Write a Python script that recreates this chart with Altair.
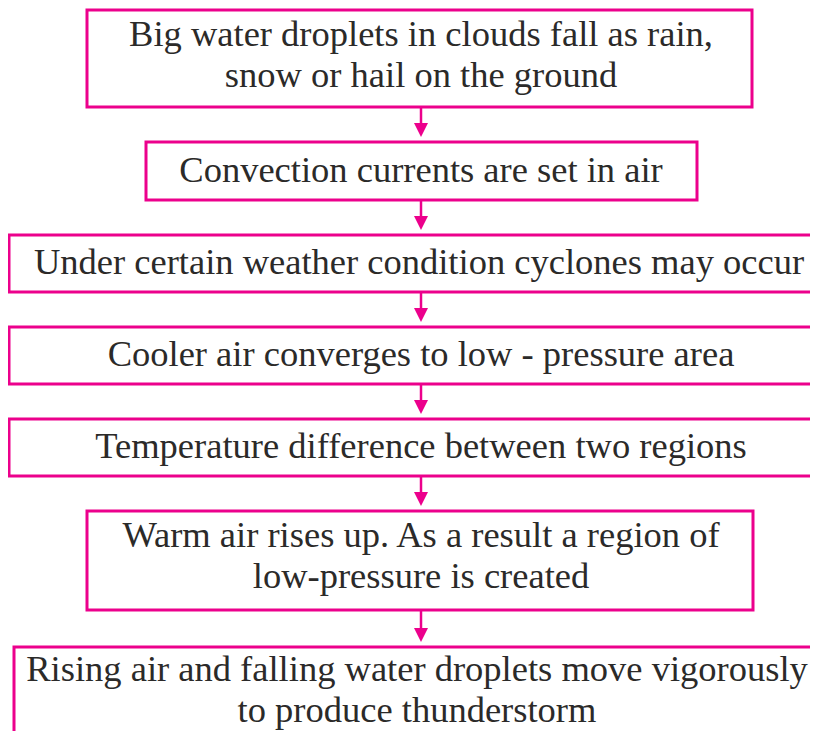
import altair as alt
import pandas as pd

# Flowchart content
box_lines = [
    ["Big water droplets in clouds fall as rain,", "snow or hail on the ground"],
    ["Convection currents are set in air"],
    ["Under certain weather condition cyclones may occur"],
    ["Cooler air converges to low - pressure area"],
    ["Temperature difference between two regions"],
    ["Warm air rises up. As a result a region of", "low-pressure is created"],
    ["Rising air and falling water droplets move vigorously", "to produce thunderstorm"],
]

# Layout (pixel coordinates of the page)
box_left = [87, 146, 9, 9, 9, 87, 14]
box_right = [752, 697, 830, 830, 830, 753, 830]
box_top = [10, 142, 235, 327, 419, 511, 647]
box_bottom = [107, 200, 292, 384, 476, 610, 760]
first_baseline = [46, 182, 274, 366, 458, 547, 681]
text_x = [421, 421, 419, 421, 421, 421, 417]
line_gap = 41
arrow_x = 421

PINK = "#ec008c"
INK = "#2b2a29"

boxes = pd.DataFrame({"x": box_left, "x2": box_right, "y": box_top, "y2": box_bottom})

rows = []
for i, lines in enumerate(box_lines):
    for j, t in enumerate(lines):
        rows.append({"x": text_x[i], "y": first_baseline[i] + j * line_gap, "t": t})
texts = pd.DataFrame(rows)

arows = []
for i in range(len(box_lines) - 1):
    tip = box_top[i + 1] - 5
    arows.append({"x": arrow_x, "y": box_bottom[i], "y2": tip - 8, "hy": tip - 7})
arrows = pd.DataFrame(arows)

xs = alt.Scale(domain=[8, 810], range=[0, 802])
ys = alt.Scale(domain=[8, 731], reverse=True)

rect = alt.Chart(boxes).mark_rect(fill="white", stroke=PINK, strokeWidth=3, clip=True).encode(
    x=alt.X("x:Q", scale=xs, axis=None),
    x2="x2:Q",
    y=alt.Y("y:Q", scale=ys, axis=None),
    y2="y2:Q",
)

shaft = alt.Chart(arrows).mark_rule(color=PINK, strokeWidth=2.5).encode(
    x=alt.X("x:Q", scale=xs, axis=None),
    y=alt.Y("y:Q", scale=ys, axis=None),
    y2="y2:Q",
)

head = alt.Chart(arrows).mark_point(
    shape="M-1,-1L1,-1L0,1Z", filled=True, color=PINK, opacity=1, size=196
).encode(
    x=alt.X("x:Q", scale=xs, axis=None),
    y=alt.Y("hy:Q", scale=ys, axis=None),
)

text = alt.Chart(texts).mark_text(
    font="'Liberation Serif', serif", fontSize=36.5, color=INK, align="center", baseline="alphabetic"
).encode(
    x=alt.X("x:Q", scale=xs, axis=None),
    y=alt.Y("y:Q", scale=ys, axis=None),
    text="t:N",
)

chart = (
    alt.layer(rect, shaft, head, text)
    .properties(width=802, height=723, padding=0, autosize=alt.AutoSizeParams(type="none"))
    .configure_view(stroke=None)
)

chart.save("out.html", embed_options={"renderer": "svg", "actions": False})
